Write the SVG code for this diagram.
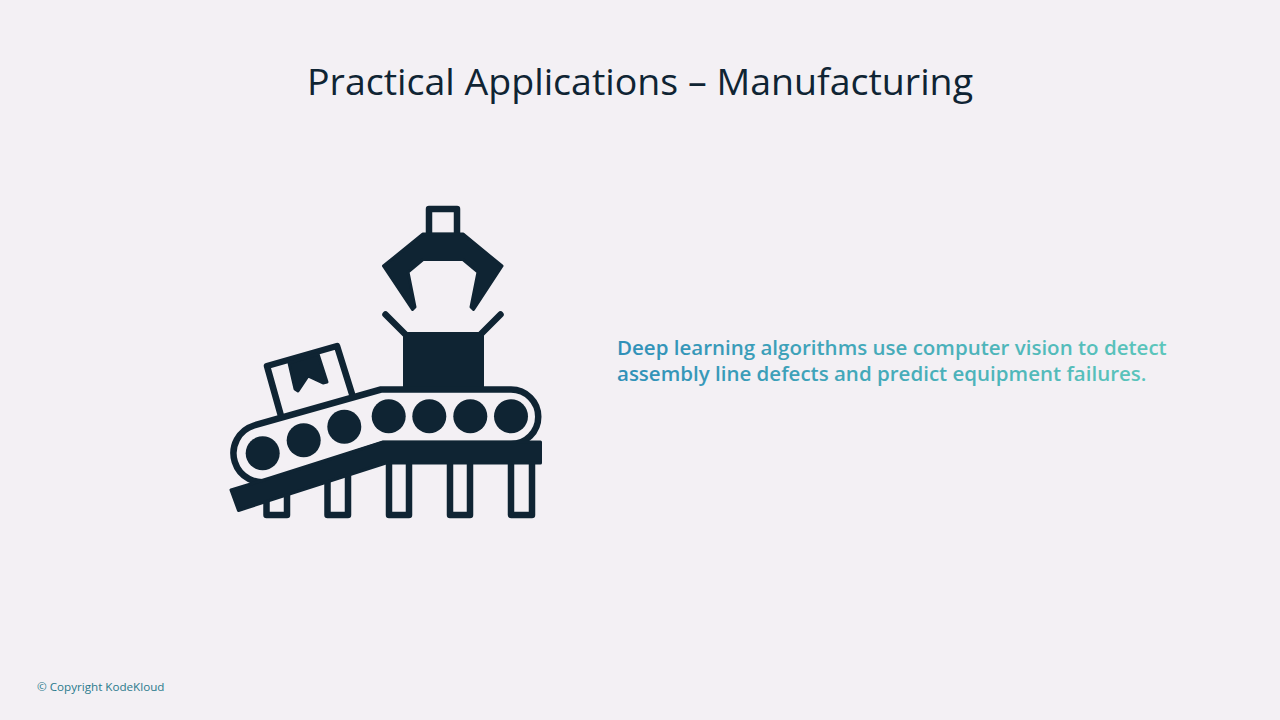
<svg xmlns="http://www.w3.org/2000/svg" width="1280" height="720" viewBox="0 0 1280 720">
<style>
.d{fill:#0f2433}
.s{fill:none;stroke:#0f2433;stroke-width:6.5;stroke-linejoin:round;stroke-linecap:round}
.j{fill:#0f2433;stroke:#0f2433;stroke-width:3;stroke-linejoin:round}
.t{font-family:"Open Sans","Noto Sans",sans-serif}
</style>
<defs>
<linearGradient id="g" gradientUnits="userSpaceOnUse" x1="617" y1="0" x2="1167" y2="0">
<stop offset="0" stop-color="#3090b8"/><stop offset="1" stop-color="#5cc6bb"/>
</linearGradient>
</defs>
<rect width="1280" height="720" fill="#f3f0f4"/>
<text class="t" x="640" y="95" font-size="36" text-anchor="middle" fill="#0f2433" textLength="666" lengthAdjust="spacingAndGlyphs">Practical Applications – Manufacturing</text>
<g id="robot-arm">
<rect class="s" x="429" y="209" width="28" height="27"/>
<path class="j" d="M423 234H463L502 266L473.500 309.500L471 307L478 272L463 259.500H423L408 272L415 307L412.500 309.500L383.500 266Z"/>
<path class="s" d="M385.500 314.500L405 334M500.500 314.500L481 334"/>
<rect class="d" x="403" y="332" width="81" height="56"/>
</g>
<g id="package">
<path class="s" d="M281 416L267 366L337 346L352 394"/>
<path class="j" d="M289 363L318 354L327 382L323 383L308 376L298 391L295 389Z"/>
</g>
<g id="legs">
<path class="s" d="M266.500 490V515H287V480M327.500 480V515H348V470M389 460V515H409V460M450 460V515H470V460M511 460V515H532V460"/>
</g>
<g id="conveyor">
<path class="s" d="M381 389.500H511A27 27 0 0 1 511 444H383L271 481A29 29 0 0 1 254 425.500Z"/>
<path class="j" d="M383 442H540.500V463H386L238.500 510.500L231 490L270 478Z"/>
<circle class="d" cx="262.700" cy="453.300" r="17"/>
<circle class="d" cx="303.700" cy="440.300" r="17"/>
<circle class="d" cx="344.300" cy="426.700" r="17"/>
<circle class="d" cx="388.700" cy="416.300" r="17"/>
<circle class="d" cx="429.300" cy="416.300" r="17"/>
<circle class="d" cx="470.300" cy="416.300" r="17"/>
<circle class="d" cx="511" cy="416.300" r="17"/>
</g>
<text class="t" font-size="20.500" font-weight="600" fill="url(#g)"><tspan x="617" y="355">Deep learning algorithms use computer vision to detect</tspan><tspan x="617" y="381">assembly line defects and predict equipment failures.</tspan></text>
<text class="t" x="37" y="691" font-size="11.650" fill="#2a7a8c">© Copyright KodeKloud</text>
</svg>
